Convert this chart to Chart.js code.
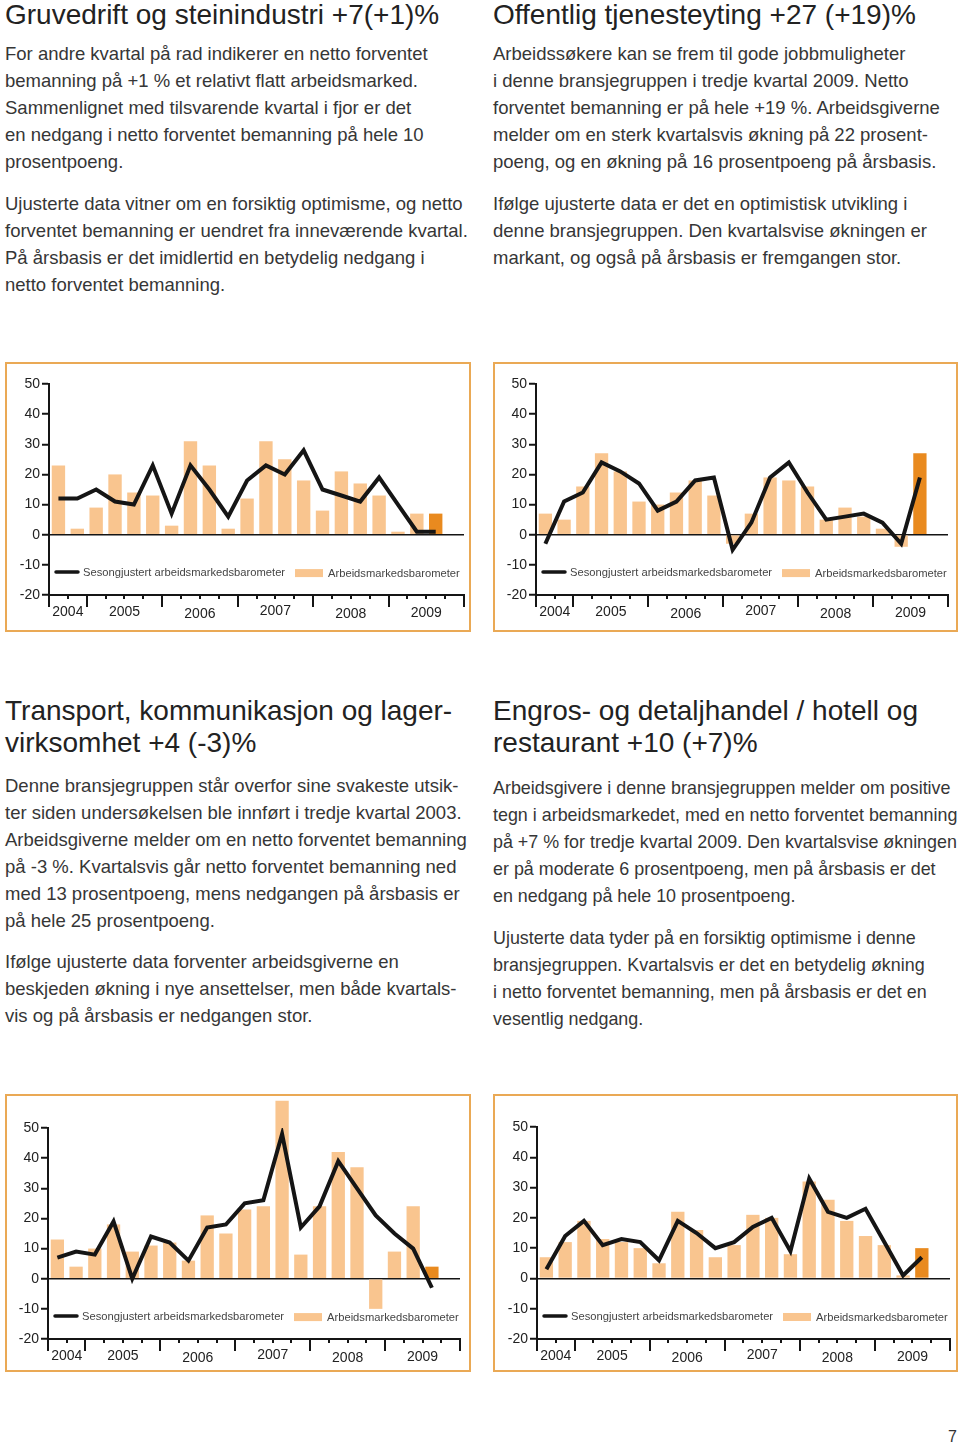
<!DOCTYPE html>
<html><head><meta charset="utf-8">
<script src="https://cdn.jsdelivr.net/npm/chart.js@4.4.0/dist/chart.umd.min.js"></script>
<style>
html,body{margin:0;padding:0;background:#fff;}
body{width:960px;height:1446px;position:relative;overflow:hidden;font-family:'Liberation Sans',Arial,sans-serif;color:#333;}
.h{position:absolute;font-size:28px;line-height:32px;color:#222;white-space:nowrap;}
.p{position:absolute;font-size:18.5px;line-height:27px;color:#363636;white-space:nowrap;}
.p.n{font-size:17.9px;}
.box{position:absolute;border:2px solid #eaa955;box-sizing:border-box;background:#fff;}
.box canvas{display:block;}
.pg{position:absolute;right:3px;top:1427px;font-size:16px;line-height:20px;color:#333;}
</style></head>
<body>
<div class="h" style="left:5px;top:-1px">Gruvedrift og steinindustri +7(+1)%</div>
<div class="p" style="left:5px;top:40px">For andre kvartal på rad indikerer en netto forventet<br>bemanning på +1 % et relativt flatt arbeidsmarked.<br>Sammenlignet med tilsvarende kvartal i fjor er det<br>en nedgang i netto forventet bemanning på hele 10<br>prosentpoeng.</div>
<div class="p" style="left:5px;top:190px">Ujusterte data vitner om en forsiktig optimisme, og netto<br>forventet bemanning er uendret fra inneværende kvartal.<br>På årsbasis er det imidlertid en betydelig nedgang i<br>netto forventet bemanning.</div>

<div class="h" style="left:493px;top:-1px">Offentlig tjenesteyting +27 (+19)%</div>
<div class="p" style="left:493px;top:40px">Arbeidssøkere kan se frem til gode jobbmuligheter<br>i denne bransjegruppen i tredje kvartal 2009. Netto<br>forventet bemanning er på hele +19 %. Arbeidsgiverne<br>melder om en sterk kvartalsvis økning på 22 prosent-<br>poeng, og en økning på 16 prosentpoeng på årsbasis.</div>
<div class="p" style="left:493px;top:190px">Ifølge ujusterte data er det en optimistisk utvikling i<br>denne bransjegruppen. Den kvartalsvise økningen er<br>markant, og også på årsbasis er fremgangen stor.</div>

<div class="h" style="left:5px;top:695px">Transport, kommunikasjon og lager-<br>virksomhet +4 (-3)%</div>
<div class="p" style="left:5px;top:772px">Denne bransjegruppen står overfor sine svakeste utsik-<br>ter siden undersøkelsen ble innført i tredje kvartal 2003.<br>Arbeidsgiverne melder om en netto forventet bemanning<br>på -3 %. Kvartalsvis går netto forventet bemanning ned<br>med 13 prosentpoeng, mens nedgangen på årsbasis er<br>på hele 25 prosentpoeng.</div>
<div class="p" style="left:5px;top:948px">Ifølge ujusterte data forventer arbeidsgiverne en<br>beskjeden økning i nye ansettelser, men både kvartals-<br>vis og på årsbasis er nedgangen stor.</div>

<div class="h" style="left:493px;top:695px">Engros- og detaljhandel / hotell og<br>restaurant +10 (+7)%</div>
<div class="p n" style="left:493px;top:775px">Arbeidsgivere i denne bransjegruppen melder om positive<br>tegn i arbeidsmarkedet, med en netto forventet bemanning<br>på +7 % for tredje kvartal 2009. Den kvartalsvise økningen<br>er på moderate 6 prosentpoeng, men på årsbasis er det<br>en nedgang på hele 10 prosentpoeng.</div>
<div class="p n" style="left:493px;top:925px">Ujusterte data tyder på en forsiktig optimisme i denne<br>bransjegruppen. Kvartalsvis er det en betydelig økning<br>i netto forventet bemanning, men på årsbasis er det en<br>vesentlig nedgang.</div>

<div class="box" id="b1" style="left:5px;top:362px;width:466px;height:270px"><canvas id="c1"></canvas></div>
<div class="box" id="b2" style="left:493px;top:362px;width:465px;height:270px"><canvas id="c2"></canvas></div>
<div class="box" id="b3" style="left:5px;top:1094px;width:466px;height:278px"><canvas id="c3"></canvas></div>
<div class="box" id="b4" style="left:493px;top:1094px;width:465px;height:278px"><canvas id="c4"></canvas></div>

<div class="pg">7</div>

<script>
// ---- data ----
const quarters = ['2004 K3','2004 K4',
  '2005 K1','2005 K2','2005 K3','2005 K4',
  '2006 K1','2006 K2','2006 K3','2006 K4',
  '2007 K1','2007 K2','2007 K3','2007 K4',
  '2008 K1','2008 K2','2008 K3','2008 K4',
  '2009 K1','2009 K2','2009 K3','2009 K4'];
const years = ['2004','2005','2006','2007','2008','2009'];
const quartersPerYear = [2,4,4,4,4,4];
const yMin = -20, yMax = 50, yStep = 10;
const seriesLineLabel = 'Sesongjustert arbeidsmarkedsbarometer';
const seriesBarLabel = 'Arbeidsmarkedsbarometer';

const gruveBars = [23, 2, 9, 20, 14, 13, 3, 31, 23, 2, 12, 31, 25, 18, 8, 21, 17, 13, 1, 7, 7, null];
const gruveLine = [12, 12, 15, 11, 10, 23, 7, 23, 15, 6, 18, 23, 20, 28, 15, 13, 11, 19, 10, 1, 1, null];

const offentligBars = [7, 5, 16, 27, 21, 11, 10, 14, 18, 13, -3, 7, 19, 18, 16, 5, 9, 6, 2, -4, 27, null];
const offentligLine = [-3, 11, 14, 24, 21, 17, 8, 11, 18, 19, -5, 4, 19, 24, 14, 5, 6, 7, 4, -3, 19, null];

const transportBars = [13, 4, 10, 18, 9, 11, 12, 6, 21, 15, 23, 24, 59, 8, 24, 42, 37, -10, 9, 24, 4, null];
const transportLine = [7, 9, 8, 19, 0, 14, 12, 6, 17, 18, 25, 26, 48, 17, 24, 39, 30, 21, 15, 10, -3, null];

const handelBars = [7, 12, 19, 13, 12, 10, 5, 22, 16, 7, 11, 21, 20, 8, 32, 26, 19, 14, 11, 1, 10, null];
const handelLine = [3, 14, 19, 11, 13, 12, 6, 19, 15, 10, 12, 17, 20, 9, 33, 22, 20, 23, 12, 1, 7, null];

// ---- styling ----
const LIGHT = '#f9c58f', DARK = '#e98a1f', INK = '#151515';
const FONT = "'Liberation Sans', Arial, sans-serif";
Chart.defaults.font.family = FONT;

const decor = {
  id: 'decor',
  afterDraw(chart) {
    const {ctx, chartArea: a, scales: {x, y}} = chart;
    const slot = x.getPixelForValue(1) - x.getPixelForValue(0);
    const x0 = x.getPixelForValue(0) - slot / 2;
    const bounds = new Set([0]);
    quartersPerYear.reduce((s, c) => { bounds.add(s + c); return s + c; }, 0);
    ctx.save();
    ctx.strokeStyle = INK; ctx.lineWidth = 2;
    for (let i = 0; i <= quarters.length; i++) {
      const px = Math.round(x0 + i * slot);
      const len = bounds.has(i) ? 12 : 4;
      ctx.beginPath(); ctx.moveTo(px, a.bottom); ctx.lineTo(px, a.bottom + len); ctx.stroke();
    }
    ctx.font = '14px ' + FONT; ctx.fillStyle = '#222';
    ctx.textAlign = 'center'; ctx.textBaseline = 'middle';
    const dy = [0, 0, 2, -1, 2, 1];
    let start = 0;
    years.forEach((yr, k) => {
      const c = quartersPerYear[k];
      const cx = (x.getPixelForValue(start) + x.getPixelForValue(start + c - 1)) / 2;
      ctx.fillText(yr, cx, a.bottom + 17 + dy[k]);
      start += c;
    });
    // legend
    const ly = y.getPixelForValue(-12.4);
    const ds = chart.data.datasets;
    const lineDs = ds.find(d => d.type === 'line');
    const barDs = ds.find(d => d.type === 'bar');
    ctx.strokeStyle = INK; ctx.lineWidth = 3.5; ctx.lineCap = 'round';
    ctx.beginPath(); ctx.moveTo(a.left + 7, ly); ctx.lineTo(a.left + 29, ly); ctx.stroke();
    ctx.font = '11.2px ' + FONT; ctx.fillStyle = '#444'; ctx.textAlign = 'left';
    ctx.fillText(lineDs.label, a.left + 34, ly + 0.5);
    ctx.fillStyle = LIGHT;
    ctx.fillRect(a.left + 246, ly - 3, 28, 8);
    ctx.fillStyle = '#444';
    ctx.fillText(barDs.label, a.left + 279, ly + 1.5);
    ctx.restore();
  }
};

function makeChart(id, bars, line, L) {
  const box = document.getElementById('b' + id);
  const cv = document.getElementById('c' + id);
  const W = box.clientWidth, H = box.clientHeight;
  cv.width = W; cv.height = H; cv.style.width = W + 'px'; cv.style.height = H + 'px';
  const lastIdx = bars.reduce((m, v, i) => v === null ? m : i, 0);
  new Chart(cv, {
    data: {
      labels: quarters,
      datasets: [
        { type: 'line', label: seriesLineLabel, data: line, borderColor: INK, borderWidth: 4,
          pointRadius: 0, tension: 0, borderJoinStyle: 'miter', borderCapStyle: 'butt', order: 0 },
        { type: 'bar', label: seriesBarLabel, data: bars,
          backgroundColor: bars.map((v, i) => i === lastIdx ? DARK : LIGHT),
          barPercentage: 0.71, categoryPercentage: 1, clip: false, order: 1 }
      ]
    },
    options: {
      responsive: false, animation: false, devicePixelRatio: 1,
      layout: { padding: { left: 0, top: L.top, right: L.right, bottom: 0 } },
      plugins: { legend: { display: false }, tooltip: { enabled: false } },
      scales: {
        x: {
          type: 'category', offset: true,
          afterFit(s) { s.height = L.xh; },
          ticks: { display: false },
          grid: { display: false, offset: true },
          border: { display: true, color: INK, width: 2 }
        },
        y: {
          min: yMin, max: yMax,
          afterFit(s) { s.width = L.yw; },
          ticks: { stepSize: yStep, color: '#222', font: { size: 14 }, padding: 2 },
          grid: {
            drawOnChartArea: true,
            color: c => (c.tick && c.tick.value === 0) ? INK : 'rgba(0,0,0,0)',
            lineWidth: 1.5, tickColor: INK, tickWidth: 2, tickLength: 7
          },
          border: { display: true, color: INK, width: 2 }
        }
      }
    },
    plugins: [decor]
  });
}

// layout: y-axis width, top padding, right padding, x-axis height (canvas px)
makeChart(1, gruveBars, gruveLine, { yw: 42, top: 20, right: 5, xh: 35 });
makeChart(2, offentligBars, offentligLine, { yw: 41, top: 20, right: 8, xh: 35 });
makeChart(3, transportBars, transportLine, { yw: 41, top: 32, right: 9, xh: 31 });
makeChart(4, handelBars, handelLine, { yw: 42, top: 31, right: 6, xh: 31 });
</script>
</body></html>
